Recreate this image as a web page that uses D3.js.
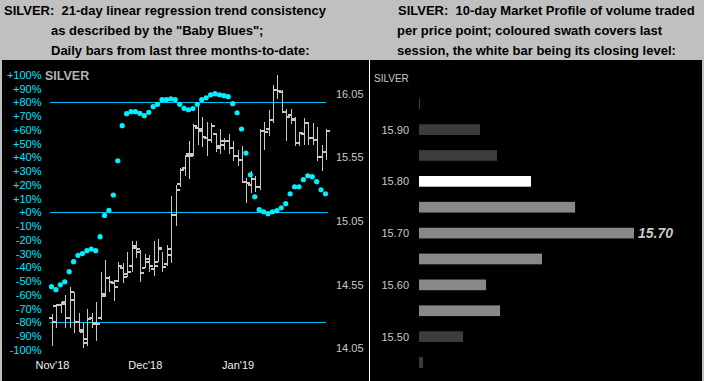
<!DOCTYPE html>
<html><head><meta charset="utf-8">
<script src="https://cdn.jsdelivr.net/npm/d3@7"></script>
<style>html,body{margin:0;padding:0;background:#c0c0c0;overflow:hidden} text{white-space:pre}</style>
</head><body><svg id="c" width="704" height="381"></svg>
<script>
// ---------- DATA ----------
const monthLabels = ["Nov'18", "Dec'18", "Jan'19"];
const monthStarts = [0, 21, 42];
const trendPct = [-54.1,-56.3,-52.7,-50.5,-43.2,-35.9,-31.3,-30.1,-27.9,-26.7,
  -27.9,-17.7,-2.3,1.5,12.6,37.5,63,71.7,73.2,73.2,
  72,70.3,72.7,76.8,78.5,81.9,81.9,82.6,81.9,78.5,
  75.6,74.6,75.5,78.6,81.9,83.3,85.5,86.3,85.5,84.8,
  84.1,79,72.4,60.6,43.1,27.3,11.3,1.9,0.4,-1,
  0.4,1.2,3.3,6.3,13.5,18.6,18.6,23.7,26.6,25.9,
  22.3,16.4,13.5];
const barOpen = [14.29,14.38,14.39,14.41,14.29,14.43,14.26,14.18,14.12,14.29,
  14.24,14.29,14.48,14.60,14.56,14.58,14.68,14.63,14.70,14.85,
  14.81,14.68,14.73,14.67,14.73,14.83,14.71,14.78,15.10,15.34,
  15.47,15.58,15.58,15.78,15.77,15.70,15.69,15.73,15.64,15.65,
  15.68,15.62,15.56,15.53,15.36,15.33,15.38,15.32,15.76,15.77,
  15.84,16.08,16.06,15.91,15.88,15.84,15.66,15.73,15.82,15.70,
  15.69,15.55,15.59];
const barHigh = [14.32,14.40,14.41,14.47,14.53,14.49,14.33,14.25,14.36,14.33,
  14.41,14.65,14.74,14.62,14.59,14.73,14.72,14.81,14.89,14.89,
  14.82,14.79,14.78,14.89,14.91,14.81,14.86,15.25,15.33,15.47,
  15.57,15.68,15.81,15.97,15.87,15.83,15.82,15.74,15.77,15.70,
  15.73,15.68,15.61,15.64,15.39,15.44,15.40,15.77,15.83,15.92,
  16.12,16.20,16.08,15.93,15.93,15.87,15.75,15.86,15.83,15.82,
  15.79,15.65,15.77];
const barLow = [14.07,14.21,14.33,14.21,14.21,14.17,14.18,14.05,14.07,14.21,
  14.11,14.27,14.45,14.49,14.42,14.57,14.56,14.61,14.65,14.76,
  14.57,14.68,14.65,14.62,14.73,14.65,14.70,14.72,15.01,15.32,
  15.40,15.38,15.56,15.65,15.63,15.56,15.66,15.59,15.58,15.61,
  15.58,15.52,15.48,15.35,15.19,15.27,15.28,15.29,15.61,15.72,
  15.82,16.01,15.90,15.68,15.81,15.64,15.64,15.65,15.65,15.65,
  15.52,15.44,15.53];
const barClose = [14.26,14.39,14.40,14.29,14.49,14.26,14.19,14.09,14.28,14.25,
  14.24,14.46,14.60,14.57,14.53,14.70,14.61,14.65,14.84,14.83,
  14.64,14.75,14.70,14.70,14.84,14.69,14.83,15.10,15.29,15.45,
  15.56,15.56,15.80,15.76,15.71,15.69,15.80,15.62,15.68,15.68,
  15.62,15.56,15.53,15.36,15.35,15.38,15.32,15.76,15.75,15.84,
  16.08,16.07,15.91,15.87,15.85,15.66,15.74,15.82,15.70,15.69,
  15.55,15.59,15.76];
const pctTicks = [100,90,80,70,60,50,40,30,20,10,0,-10,-20,-30,-40,-50,-60,-70,-80,-90,-100];
const pctBands = [80, 0, -80];
const priceTicks = [16.05, 15.55, 15.05, 14.55, 14.05];

const profileLevels = [15.95,15.90,15.85,15.80,15.75,15.70,15.65,15.60,15.55,15.50,15.45];
const profileVolume = [0.5,28.4,36.3,52.1,72.6,100,57.2,31.2,37.7,20.5,1.9];
const profileKind = ["prior","prior","prior","close","last","last","last","last","last","prior","prior"];
const profileTicks = [15.90,15.80,15.70,15.60,15.50];
const profilePeak = 15.70;

// ---------- DRAW ----------
const svg = d3.select("#c");
const FONT = "'Liberation Sans', Arial, sans-serif";
svg.append("rect").attr("width",704).attr("height",381).attr("fill","#c0c0c0");
svg.append("rect").attr("x",2).attr("y",60).attr("width",367).attr("height",321).attr("fill","#000");
svg.append("rect").attr("x",369).attr("y",60).attr("width",1).attr("height",321).attr("fill","#fff");
svg.append("rect").attr("x",370).attr("y",60).attr("width",332).attr("height",321).attr("fill","#000");

// headers
const hdr = (x, y, t) => svg.append("text").attr("x",x).attr("y",y).text(t)
  .attr("font-family",FONT).attr("font-weight","bold").attr("font-size",13).attr("fill","#000");
hdr(4,14.5,"SILVER:  21-day linear regression trend consistency");
hdr(51,35,"as described by the \"Baby Blues\";");
hdr(51,54.5,"Daily bars from last three months-to-date:");
hdr(398,14.5,"SILVER:  10-day Market Profile of volume traded");
hdr(397,35,"per price point; coloured swath covers last");
hdr(397,54.5,"session, the white bar being its closing level:");

// left panel scales
const xs = d3.scaleLinear().domain([0, 62]).range([52, 326]);
const yPct = d3.scaleLinear().domain([-100, 100]).range([349.8, 74.8]);
const yPx = d3.scaleLinear().domain([14.05, 16.05]).range([348.3, 93.7]);

// percent axis
const ga = svg.append("g").attr("transform","translate(41.5,0)")
  .call(d3.axisLeft(yPct).tickValues(pctTicks).tickSize(0).tickPadding(0)
    .tickFormat(d => (d >= 0 ? "+" : "") + d + "%"));
ga.select(".domain").remove();
ga.selectAll("text").attr("fill","#00e8ff").attr("font-family",FONT).attr("font-size",11);

// price axis
const gp = svg.append("g").attr("transform","translate(336,0)")
  .call(d3.axisRight(yPx).tickValues(priceTicks).tickSize(0).tickPadding(0)
    .tickFormat(d3.format(".2f")));
gp.select(".domain").remove();
gp.selectAll("text").attr("fill","#c8c8c8").attr("font-family",FONT).attr("font-size",11);

// month axis
const gm = svg.append("g").attr("transform","translate(0,361)")
  .call(d3.axisBottom(xs).tickValues(monthStarts).tickSize(0).tickPadding(0)
    .tickFormat((d, i) => monthLabels[i]));
gm.select(".domain").remove();
gm.selectAll("text").attr("fill","#f0f0f0").attr("font-family",FONT).attr("font-size",11);

// SILVER label
svg.append("text").attr("x",45).attr("y",80.2).text("SILVER")
  .attr("font-family",FONT).attr("font-weight","bold").attr("font-size",12.5).attr("fill","#b4b4b4");

// band lines
svg.append("g").selectAll("line").data(pctBands).join("line")
  .attr("x1",50).attr("x2",d => d === 0 ? 328 : 326)
  .attr("y1",d => Math.round(yPct(d)) + 0.5).attr("y2",d => Math.round(yPct(d)) + 0.5)
  .attr("stroke","#00c0f8").attr("stroke-width",1);

// OHLC bars
const idx = d3.range(barHigh.length);
const gb = svg.append("g").attr("stroke","#c8c8c8").attr("shape-rendering","crispEdges");
gb.selectAll("line.v").data(idx).join("line").attr("class","v")
  .attr("x1",i => Math.round(xs(i)) + 0.5).attr("x2",i => Math.round(xs(i)) + 0.5)
  .attr("y1",i => yPx(barHigh[i])).attr("y2",i => yPx(barLow[i])).attr("stroke-width",1);
gb.selectAll("line.o").data(idx).join("line").attr("class","o")
  .attr("x1",i => Math.round(xs(i)) - 3).attr("x2",i => Math.round(xs(i)))
  .attr("y1",i => yPx(barOpen[i])).attr("y2",i => yPx(barOpen[i])).attr("stroke-width",2);
gb.selectAll("line.c").data(idx).join("line").attr("class","c")
  .attr("x1",i => Math.round(xs(i)) + 1).attr("x2",i => Math.round(xs(i)) + 4)
  .attr("y1",i => yPx(barClose[i])).attr("y2",i => yPx(barClose[i])).attr("stroke-width",2);

// Baby Blues dots
svg.append("g").selectAll("circle").data(idx).join("circle")
  .attr("cx",i => xs(i) - 0.5).attr("cy",i => yPct(trendPct[i])).attr("r",2.6)
  .attr("fill","#00f0ff");

// ---------- right panel: market profile ----------
const yProf = d3.scaleLinear().domain([15.45, 15.95]).range([362.5, 103.7]);
const xProf = d3.scaleLinear().domain([0, 100]).range([419, 634]);
const profColor = {prior:"#3c3c3c", last:"#888888", close:"#ffffff"};
const barH = 10.7;
svg.append("g").selectAll("rect").data(profileLevels).join("rect")
  .attr("x", xProf(0)).attr("y", d => yProf(d) - barH / 2)
  .attr("width", (d, i) => Math.max(1, xProf(profileVolume[i]) - xProf(0)))
  .attr("height", barH).attr("fill", (d, i) => profColor[profileKind[i]]);

const gr = svg.append("g").attr("transform","translate(409,0)")
  .call(d3.axisLeft(yProf).tickValues(profileTicks).tickSize(0).tickPadding(0).tickFormat(d3.format(".2f")));
gr.select(".domain").remove();
gr.selectAll("text").attr("fill","#c8c8c8").attr("font-family",FONT).attr("font-size",11);

svg.append("text").attr("x",374).attr("y",81.8).text("SILVER")
  .attr("font-family",FONT).attr("font-size",10).attr("fill","#c8c8c8");

const pi = profileLevels.indexOf(profilePeak);
svg.append("text").attr("x", xProf(profileVolume[pi]) + 4).attr("y", yProf(profilePeak) + 5)
  .text(d3.format(".2f")(profilePeak))
  .attr("font-family",FONT).attr("font-weight","bold").attr("font-style","italic")
  .attr("font-size",14).attr("fill","#c8c8c8");
</script></body></html>
